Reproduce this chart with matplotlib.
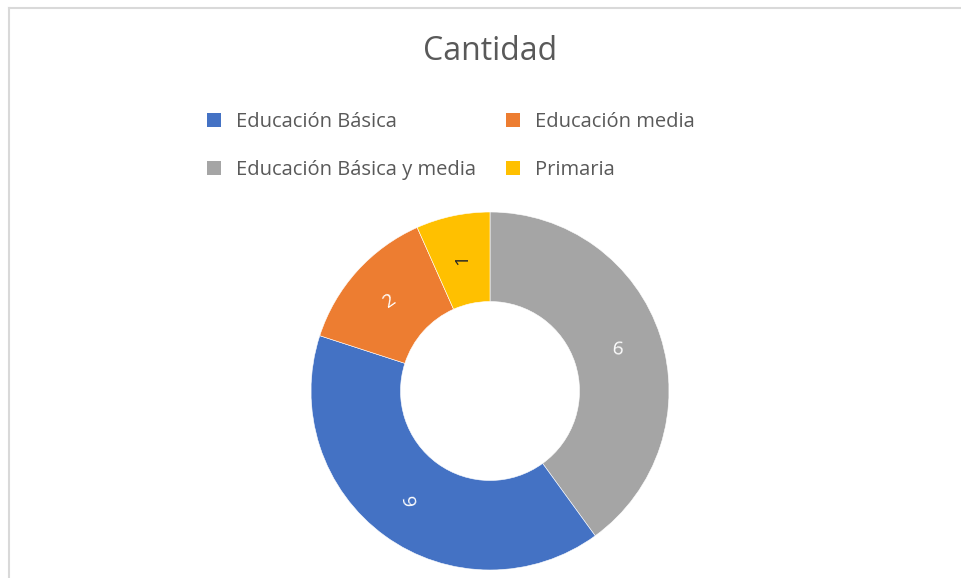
import matplotlib
matplotlib.use("Agg")
import matplotlib.pyplot as plt
from matplotlib.patches import Patch
from matplotlib.lines import Line2D

plt.rcParams['font.family'] = ['Open Sans', 'DejaVu Sans']

# Data (legend order)
categories = ["Educación Básica", "Educación media", "Educación Básica y media", "Primaria"]
values = [6, 2, 6, 1]
colors = ["#4472C4", "#ED7D31", "#A5A5A5", "#FFC000"]
label_colors = ["white", "white", "white", "#262626"]
title = "Cantidad"

# drawing order around the ring (clockwise from 12 o'clock)
draw_order = [2, 0, 1, 3]
label_rotation = {0: 100, 1: 35, 2: -5, 3: 90}

W, H = 961, 578
fig = plt.figure(figsize=(W / 100, H / 100), dpi=100)

# chart border (left and top lines)
fig.add_artist(Line2D([9 / W, 9 / W], [0, 1 - 8 / H], color="#d9d9d9", lw=1.5, transform=fig.transFigure))
fig.add_artist(Line2D([9 / W, 1], [1 - 8 / H, 1 - 8 / H], color="#d9d9d9", lw=1.5, transform=fig.transFigure))

cx, cy, r = 490, 391, 179
ax = fig.add_axes([(cx - r) / W, (H - cy - r) / H, 2 * r / W, 2 * r / H])

vals = [values[i] for i in draw_order]
cols = [colors[i] for i in draw_order]
wedges, texts, autotexts = ax.pie(
    vals, colors=cols, startangle=90, counterclock=False, radius=1,
    wedgeprops=dict(width=0.5, edgecolor="white", linewidth=0.4),
    autopct=lambda p: "{:.0f}".format(p * sum(vals) / 100), pctdistance=0.75,
)
for k, t in enumerate(autotexts):
    idx = draw_order[k]
    t.set_color(label_colors[idx])
    t.set_fontsize(14)
    t.set_rotation(label_rotation[idx])
    t.set_ha("center")
    t.set_va("center")
ax.set_xlim(-1, 1)
ax.set_ylim(-1, 1)
ax.set_aspect("equal")
ax.axis("off")

fig.text(cx / W, 1 - 52 / H, title, ha="center", va="center", fontsize=23, color="#595959")

handles = [Patch(facecolor=colors[i], edgecolor="none") for i in range(4)]
order = [0, 2, 1, 3]
leg = fig.legend([handles[i] for i in order], [categories[i] for i in order],
                 ncol=2, loc="center left", bbox_to_anchor=(207 / W, 1 - 146 / H),
                 frameon=False, fontsize=14.5, labelcolor="#595959",
                 handlelength=0.68, handleheight=0.68, handletextpad=0.75,
                 columnspacing=1.5, labelspacing=1.4, borderpad=0, borderaxespad=0)

fig.savefig("out.png", dpi=100)
